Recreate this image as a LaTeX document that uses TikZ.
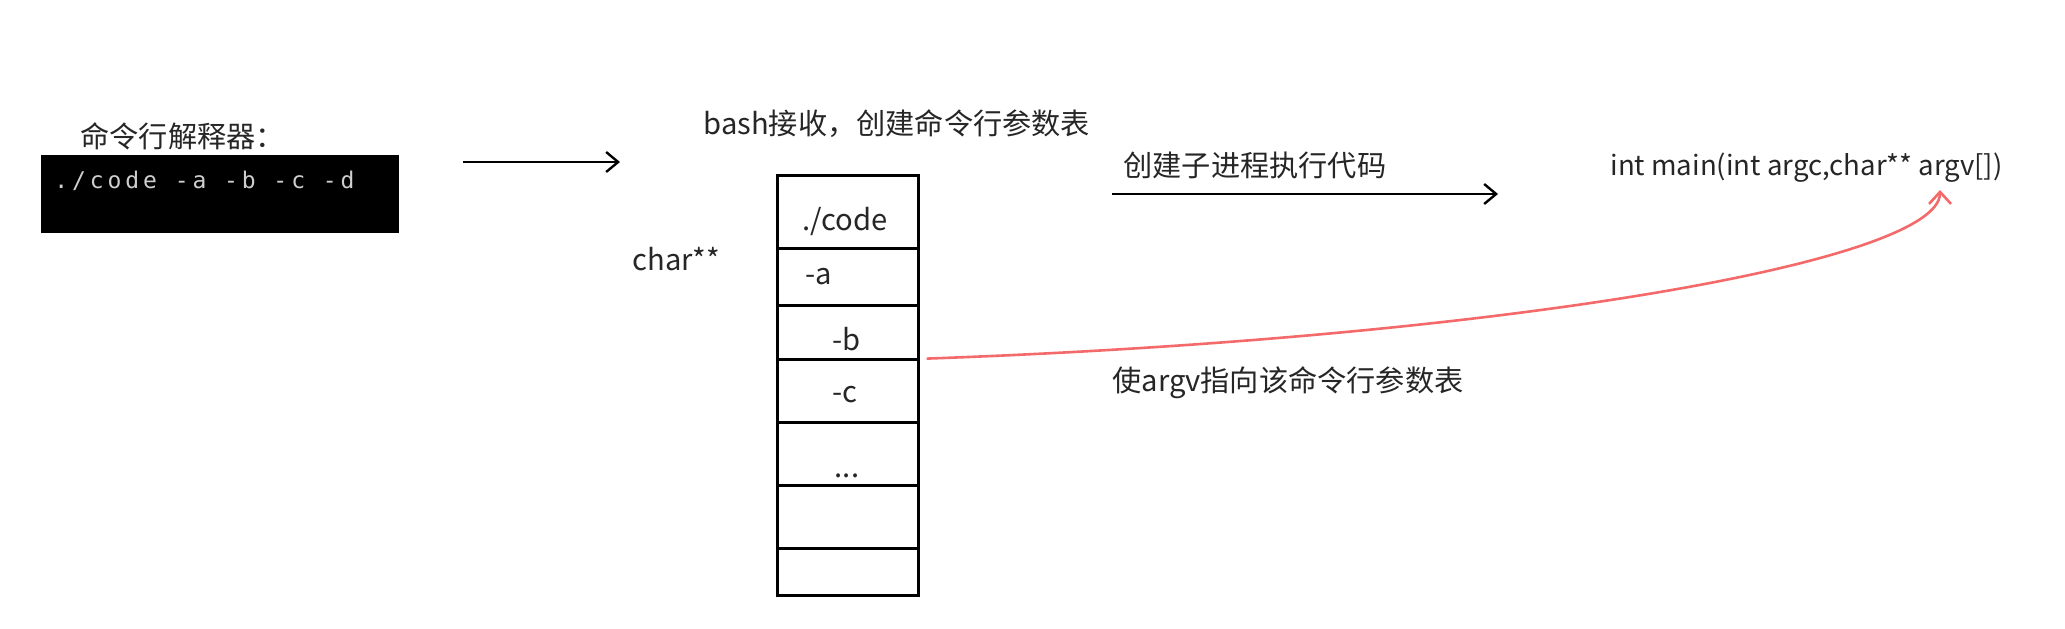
\documentclass[tikz,border=0pt]{standalone}
\usepackage{fontspec}
\setmainfont{Noto Sans CJK SC}
\newfontfamily\termfont[LetterSpace=17]{DejaVu Sans Mono}
\usetikzlibrary{arrows.meta}
\definecolor{inkgray}{HTML}{262626}
\definecolor{termgray}{HTML}{CFCFCF}
\definecolor{argvred}{HTML}{F46A6A}
\tikzset{
  txt/.style={inner sep=0pt, text=inkgray, font=\fontsize{14.6pt}{17pt}\selectfont},
  cell/.style={draw=black, line width=1.3pt, inner sep=0pt, minimum width=70.5pt, anchor=north west},
  flow/.style={line width=1.2pt, -{Straight Barb[length=6pt,width=10pt]}},
  ptr/.style={draw=argvred, line width=1.3pt, -{Straight Barb[length=6pt,width=11pt]}},
}
\begin{document}
\begin{tikzpicture}[x=0.5pt, y=-0.5pt]
  \useasboundingbox (0,0) rectangle (2065,628);
  % terminal
  \node[txt, anchor=west] (shellcap) at (80,136) {命令行解释器：};
  \node[fill=black, inner sep=0pt, minimum width=179pt, minimum height=39pt,
    anchor=north west] (term) at (41,155) {};
  \node[inner sep=0pt, anchor=base west, text=termgray,
    font=\termfont\fontsize{11.5pt}{13pt}\selectfont] (cmdline) at (54,188) {./code -a -b -c -d};
  \coordinate (scanS) at (463,162);
  \coordinate (scanE) at (620,162);
  \draw[flow] (scanS) -- (scanE);
  % argument table
  \node[txt, anchor=west] (bashcap) at (703,124) {bash接收，创建命令行参数表};
  \node[txt, anchor=base west] (charpp) at (632,270) {char**};
  \foreach \t/\b [count=\i, evaluate=\b as \h using (\b-\t)*0.5] in
    {174/247, 247/304, 304/358, 358/421, 421/484, 484/547, 547/594}
    \node[cell, minimum height=\h pt] (cell\i) at (776,\t) {};
  \node[txt, anchor=base] (argcode) at (845,230) {./code};
  \node[txt, anchor=base west] (arga) at (805,284) {-a};
  \node[txt, anchor=base west] (argb) at (832,350) {-b};
  \node[txt, anchor=base west] (argc) at (832,402) {-c};
  \node[txt, anchor=base] (argdots) at (847,477) {...};
  % child process
  \node[txt, anchor=west] (forkcap) at (1123,165) {创建子进程执行代码};
  \coordinate (forkS) at (1112,194);
  \coordinate (forkE) at (1498,194);
  \draw[flow] (forkS) -- (forkE);
  \node[txt, anchor=base west, font=\fontsize{13.8pt}{16pt}\selectfont] (mainsig) at (1610,175)
    {int main(int argc,char** argv[])};
  \coordinate (argvtip) at (1940,190);
  \draw[ptr] ([shift={(7,-2)}]cell3.south east) .. controls (1500,338) and (1940,262) .. (argvtip);
  \node[txt, anchor=west] (argvcap) at (1112,383) {使argv指向该命令行参数表};
\end{tikzpicture}
\end{document}
